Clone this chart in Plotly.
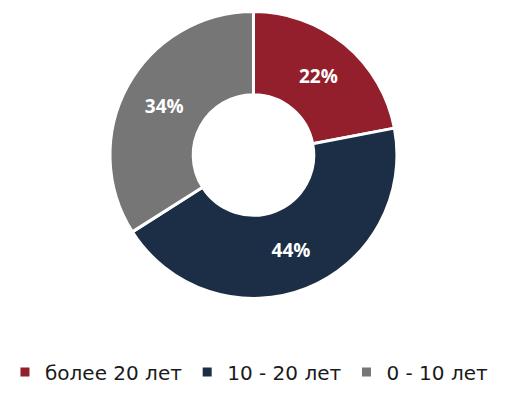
import plotly.graph_objects as go

categories = ["более 20 лет", "10 - 20 лет", "0 - 10 лет"]
values = [22, 44, 34]
colors = ["#921F2B", "#1B2E45", "#767676"]

fig = go.Figure(go.Pie(
    labels=categories,
    values=values,
    hole=0.42,
    sort=False,
    direction="clockwise",
    rotation=0,
    marker=dict(colors=colors, line=dict(color="white", width=3)),
    texttemplate="%{value}%",
    textposition="inside",
    insidetextorientation="horizontal",
    textfont=dict(family="Open Sans", size=19, color="white", weight="bold"),
    domain=dict(x=[0.2079, 0.7504], y=[0.2481, 0.9711]),
    hoverinfo="label+percent",
))

fig.update_layout(
    width=529, height=397,
    margin=dict(l=0, r=0, t=0, b=0),
    paper_bgcolor="white",
    plot_bgcolor="white",
    showlegend=True,
    legend=dict(
        orientation="h",
        x=0.4716, xanchor="center",
        y=0.063, yanchor="middle",
        font=dict(family="DejaVu Sans", size=20, color="#1a1a1a"),
        itemwidth=30,
        traceorder="normal",
    ),
)

fig.write_html("out.html")
